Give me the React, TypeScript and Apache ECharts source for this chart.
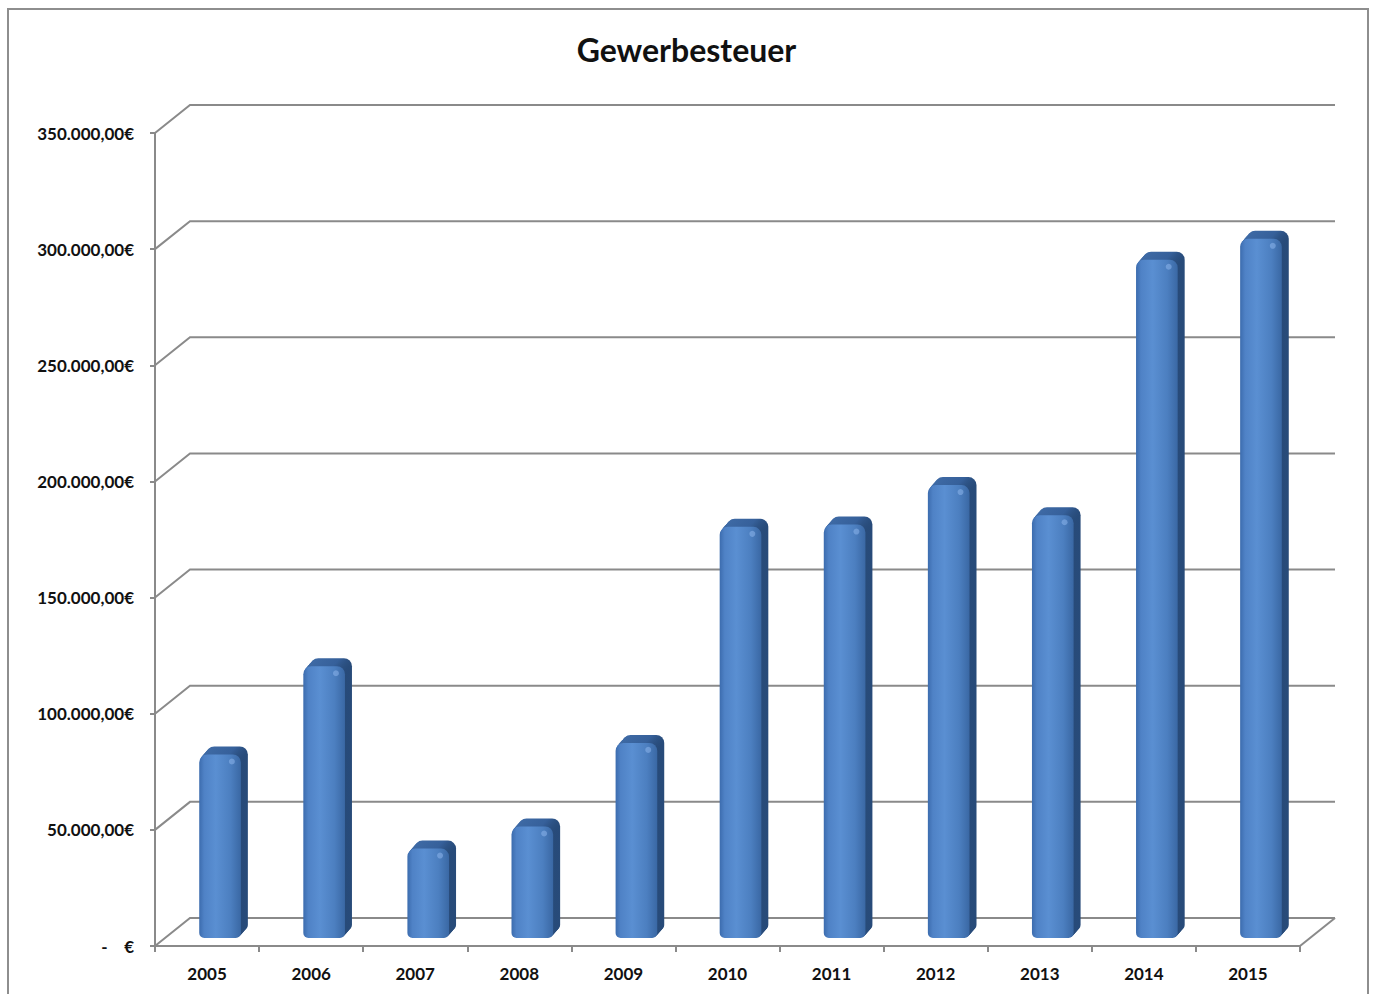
import React, { useEffect, useRef } from "react";
import * as echarts from "echarts";

const years = ["2005", "2006", "2007", "2008", "2009", "2010", "2011", "2012", "2013", "2014", "2015"];
const values = [79000, 117000, 38500, 48000, 84000, 177000, 178000, 195000, 182000, 292000, 301000];
const yTicks = [0, 50000, 100000, 150000, 200000, 250000, 300000, 350000];
const chartTitle = "Gewerbesteuer";

const WALL_DX = 35;
const WALL_DY = -28;
const BAR_DX = 13;
const BAR_DY = -8;
const DEPTH_DX = 7;
const DEPTH_DY = -8;
const STEPS = 8;
const GRID_COLOR = "#8a8a8a";

function fmt(v: number): string {
  if (v === 0) return "-    €";
  return String(v).replace(/\B(?=(\d{3})+(?!\d))/g, ".") + ",00€";
}

export default function App() {
  const ref = useRef<HTMLDivElement>(null);
  useEffect(() => {
    if (!ref.current) return;
    const chart = echarts.init(ref.current, null, { renderer: "svg" });
    const option: any = {
      animation: false,
      backgroundColor: "#ffffff",
      title: {
        text: chartTitle,
        left: "center",
        top: 28,
        textStyle: { fontFamily: "Lato", fontWeight: "bold", fontSize: 32, color: "#111" },
      },
      graphic: [
        {
          type: "rect",
          silent: true,
          shape: { x: 8, y: 9, width: 1360, height: 1000 },
          style: { fill: "none", stroke: "#8e8e8e", lineWidth: 2 },
          z: -1,
        },
      ],
      grid: { left: 155, right: 73, top: 133, bottom: 48 },
      xAxis: {
        type: "category",
        data: years,
        axisLine: { show: true, lineStyle: { color: GRID_COLOR, width: 2 } },
        axisTick: { show: true, length: 6, lineStyle: { color: GRID_COLOR, width: 2 } },
        axisLabel: {
          margin: 19,
          color: "#111",
          fontFamily: "Lato",
          fontWeight: "bold",
          fontSize: 17,
        },
        splitLine: { show: false },
      },
      yAxis: {
        type: "value",
        min: 0,
        max: 350000,
        interval: 50000,
        axisLine: { show: true, lineStyle: { color: GRID_COLOR, width: 2 } },
        axisTick: { show: true, length: 5, lineStyle: { color: GRID_COLOR, width: 2 } },
        axisLabel: {
          margin: 21,
          color: "#111",
          fontFamily: "Lato",
          fontWeight: "bold",
          fontSize: 17,
          formatter: (v: number) => fmt(v),
        },
        splitLine: { show: false },
      },
      series: [
        {
          type: "custom",
          name: "walls",
          clip: false,
          silent: true,
          z: 1,
          data: yTicks.map((v) => [0, v]),
          renderItem: (params: any, api: any) => {
            const v = api.value(1);
            const p = api.coord([0, v]);
            const cs = params.coordSys;
            const x0 = cs.x;
            const x1 = cs.x + cs.width;
            const y = p[1];
            const children: any[] = [
              {
                type: "polyline",
                shape: {
                  points: [
                    [x0, y],
                    [x0 + WALL_DX, y + WALL_DY],
                    [x1 + WALL_DX, y + WALL_DY],
                  ],
                },
                style: { stroke: GRID_COLOR, lineWidth: 2, fill: "none" },
              },
            ];
            if (v === 0) {
              children.push({
                type: "line",
                shape: { x1: x1, y1: y, x2: x1 + WALL_DX, y2: y + WALL_DY },
                style: { stroke: GRID_COLOR, lineWidth: 2 },
              });
            }
            return { type: "group", children };
          },
        },
        {
          type: "custom",
          name: "Gewerbesteuer",
          clip: false,
          z: 3,
          data: values.map((v, i) => [i, v]),
          renderItem: (params: any, api: any) => {
            const i = api.value(0);
            const v = api.value(1);
            const top = api.coord([i, v]);
            const base = api.coord([i, 0]);
            const band = api.size([1, 0])[0];
            const w = band * 0.4;
            const fx = top[0] - w / 2 + BAR_DX;
            const fyTop = top[1] + BAR_DY;
            const fyBot = base[1] + BAR_DY;
            const h = fyBot - fyTop;
            const children: any[] = [];
            for (let k = STEPS; k >= 1; k--) {
              const t = k / STEPS;
              children.push({
                type: "rect",
                shape: { x: fx + DEPTH_DX * t, y: fyTop + DEPTH_DY * t, width: w, height: h, r: [8, 8, 5, 5] },
                style: {
                  fill: new echarts.graphic.LinearGradient(0, 0, 1, 0, [
                    { offset: 0, color: "#3f6ba6" },
                    { offset: 0.7, color: "#36609a" },
                    { offset: 1, color: "#274a78" },
                  ]),
                },
              });
            }
            children.push({
              type: "rect",
              shape: { x: fx, y: fyTop, width: w, height: h, r: [8, 8, 5, 5] },
              style: {
                fill: new echarts.graphic.LinearGradient(0, 0, 1, 0, [
                  { offset: 0, color: "#3c6cae" },
                  { offset: 0.12, color: "#4f82c6" },
                  { offset: 0.4, color: "#5a8fd2" },
                  { offset: 0.75, color: "#4c7fc0" },
                  { offset: 1, color: "#3a68a4" },
                ]),
              },
            });
            children.push({
              type: "circle",
              shape: { cx: fx + w - 9, cy: fyTop + 7, r: 3 },
              style: { fill: "rgba(140,180,235,0.55)" },
            });
            return { type: "group", children };
          },
        },
      ],
    };
    chart.setOption(option);
    return () => chart.dispose();
  }, []);
  return (
    <div
      ref={ref}
      style={{ position: "absolute", left: 0, top: 0, width: 1373, height: 994 }}
    />
  );
}
